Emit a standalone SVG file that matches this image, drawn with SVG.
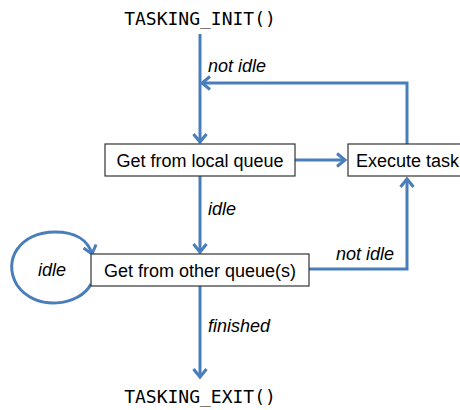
<svg xmlns="http://www.w3.org/2000/svg" width="460" height="410" viewBox="0 0 460 410">
<style>
.box{fill:#fff;stroke:#333;stroke-width:1.2}
.lbl{font-family:"Liberation Sans",Arial,sans-serif;font-size:18px;fill:#000}
.it{font-family:"Liberation Sans",Arial,sans-serif;font-size:18px;font-style:italic;fill:#000}
.mono{font-family:"DejaVu Sans Mono","Liberation Mono",monospace;font-size:18px;fill:#000}
.con{fill:none;stroke:#4a7ebb;stroke-width:3;marker-end:url(#arr)}
.con2{fill:none;stroke:#4a7ebb;stroke-width:3}
</style>
<defs>
<marker id="arr" markerUnits="userSpaceOnUse" markerWidth="20" markerHeight="20" refX="0" refY="0" viewBox="-12 -10 16 20" orient="auto">
<path d="M-8,-6.5 L0,0 L-8,6.5" fill="none" stroke="#4a7ebb" stroke-width="3"/>
</marker>
</defs>
<g id="connectors">
<path class="con" d="M200,34 V142"/>
<path class="con" d="M407,144 V83 H202"/>
<path class="con" d="M295,160 H345"/>
<path class="con" d="M200,176 V252"/>
<path class="con" d="M309,269 H407 V179"/>
<path class="con" d="M200,286 V377"/>
<path class="con" d="M91,284 C80,306 35,312 17,285 C2,260 20,232 55,232 C75,232 88,240 92,254"/>
</g>
<g id="init"><text class="mono" x="200" y="25" text-anchor="middle">TASKING_INIT()</text></g>
<g id="exit"><text class="mono" x="200" y="403" text-anchor="middle">TASKING_EXIT()</text></g>
<g id="local">
<rect class="box" x="105" y="144" width="190" height="32"/>
<text class="lbl" x="200" y="167" text-anchor="middle">Get from local queue</text>
</g>
<g id="execute">
<rect class="box" x="348" y="144" width="116" height="32"/>
<text class="lbl" x="356" y="167">Execute task</text>
</g>
<g id="other">
<rect class="box" x="91" y="254" width="218" height="32"/>
<text class="lbl" x="200" y="277" text-anchor="middle">Get from other queue(s)</text>
</g>
<g id="labels">
<text class="it" x="208" y="72">not idle</text>
<text class="it" x="208" y="215">idle</text>
<text class="it" x="336" y="260">not idle</text>
<text class="it" x="38" y="276">idle</text>
<text class="it" x="208" y="332">finished</text>
</g>
</svg>
